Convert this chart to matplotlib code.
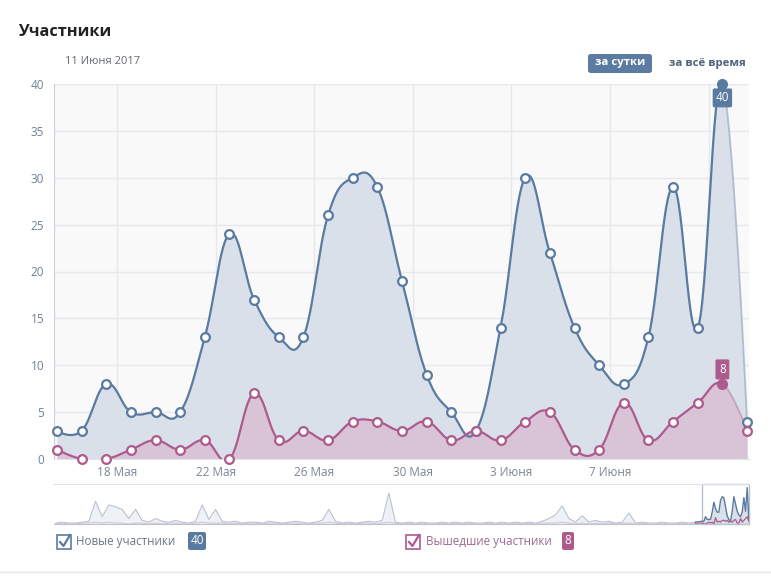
import numpy as np
import pandas as pd
import matplotlib
matplotlib.use("Agg")
import matplotlib.pyplot as plt
import matplotlib.dates as mdates
from matplotlib.patches import Rectangle, FancyBboxPatch
from matplotlib.lines import Line2D

plt.rcParams['font.family'] = ['Open Sans', 'DejaVu Sans']

# daily values, 15 May .. 12 June 2017
dates = pd.date_range("2017-05-15", "2017-06-12", freq="D")
new_members = [3, 3, 8, 5, 5, 5, 13, 24, 17, 13, 13, 26, 30, 29, 19, 9, 5, 3,
               14, 30, 22, 14, 10, 8, 13, 29, 14, 40, 4]
left_members = [1, 0, 0, 1, 2, 1, 2, 0, 7, 2, 3, 2, 4, 4, 3, 4, 2, 3,
                2, 4, 5, 1, 1, 6, 2, 4, 6, 8, 3]
tick_dates = ["2017-05-18", "2017-05-22", "2017-05-26", "2017-05-30", "2017-06-03", "2017-06-07", "2017-06-11"]
tick_labels = ["18 Мая", "22 Мая", "26 Мая", "30 Мая", "3 Июня", "7 Июня", ""]
y_ticks = [0, 5, 10, 15, 20, 25, 30, 35, 40]
hl_index = 27  # 11 June

# navigator history (one value per 4 days, before the shown window)
nav_new_hist = [1, 2, 1, 1, 2, 3, 25, 8, 21, 19, 16, 6, 16, 4, 2, 6, 3, 2, 4, 2,
                1, 3, 21, 5, 16, 3, 2, 3, 1, 2, 2, 1, 3, 2, 1, 2, 3, 2, 1, 2,
                4, 16, 3, 1, 2, 1, 2, 3, 2, 4, 34, 2, 1, 2, 1, 2, 1, 1, 2, 1,
                2, 1, 2, 1, 1, 2, 1, 2, 1, 2, 1, 2, 1, 3, 6, 10, 20, 6, 2, 9,
                2, 4, 2, 3, 1, 2, 12, 1, 2, 1, 1, 2, 1, 1, 2, 1, 2]
nav_left_hist = [0, 1, 0, 0, 1, 1, 2, 1, 2, 1, 1, 0, 1, 1, 0, 1, 0, 1, 1, 0,
                 0, 1, 2, 1, 1, 1, 0, 1, 0, 1, 1, 0, 1, 1, 0, 1, 1, 0, 0, 1,
                 1, 2, 1, 0, 1, 0, 1, 1, 0, 1, 2, 1, 0, 1, 0, 1, 0, 0, 1, 0,
                 1, 0, 1, 0, 0, 1, 0, 1, 0, 1, 0, 1, 0, 1, 1, 1, 2, 1, 0, 1,
                 0, 1, 0, 1, 0, 1, 1, 0, 1, 0, 0, 1, 0, 0, 1, 0, 1]

BLUE = '#5a7ba1'
PINK = '#ad5a8c'
BLUE_FILL = '#d9e0e9'
PINK_FILL = '#d8c4d6'
GRID = '#e6e8ec'
BG = '#f9f9fa'


def hc_spline(x, y, smoothing=1.5, n=30):
    # old-style highcharts spline (no overshoot clamp), one curve per segment
    x = np.asarray(x, float); y = np.asarray(y, float)
    N = len(x)
    lcx, lcy, rcx, rcy = x.copy(), y.copy(), x.copy(), y.copy()
    d = smoothing + 1
    for i in range(1, N - 1):
        px, py = x[i], y[i]
        lx, ly, nx, ny = x[i-1], y[i-1], x[i+1], y[i+1]
        a = (smoothing*px + lx)/d; b = (smoothing*py + ly)/d
        c = (smoothing*px + nx)/d; e = (smoothing*py + ny)/d
        if c != a:
            corr = ((e - b)*(c - px))/(c - a) + py - e
            b += corr; e += corr
        lcx[i], lcy[i], rcx[i], rcy[i] = a, b, c, e
    t = np.linspace(0, 1, n)[:, None]
    segs = []
    for i in range(1, N):
        P0 = np.array([x[i-1], y[i-1]]); P1 = np.array([rcx[i-1], rcy[i-1]])
        P2 = np.array([lcx[i], lcy[i]]); P3 = np.array([x[i], y[i]])
        pts = (1-t)**3*P0 + 3*(1-t)**2*t*P1 + 3*(1-t)*t**2*P2 + t**3*P3
        segs.append(pts)
    return segs


W, H = 771, 580
fig = plt.figure(figsize=(W/100, H/100), dpi=100)


def fx(px):
    return px / W


def fy(py):
    return 1 - py / H


ax = fig.add_axes([fx(54), fy(459), 695/W, 375/H])
ax.set_facecolor(BG)

xs = mdates.date2num(dates) + 0.56
for vals, line_c, fill_c in [(new_members, BLUE, BLUE_FILL), (left_members, PINK, PINK_FILL)]:
    segs = hc_spline(xs, vals)
    full = np.vstack(segs)
    ax.fill_between(full[:, 0], full[:, 1], 0, color=fill_c, lw=0, zorder=2)
    main = np.vstack(segs[:-1])
    ax.plot(main[:, 0], main[:, 1], color=line_c, lw=1.6, zorder=3)
    ax.plot(segs[-1][:, 0], segs[-1][:, 1], color=line_c, lw=1.4, alpha=0.35, zorder=3)
    idx = [i for i in range(len(vals)) if i != hl_index]
    ax.plot(xs[idx], np.array(vals)[idx], 'o', ms=6.3, mfc='white', mec=line_c, mew=1.6,
            zorder=4, clip_on=False)
    ax.plot(xs[hl_index], vals[hl_index], 'o', ms=7, mfc=line_c, mec=line_c, zorder=4, clip_on=False)

ax.annotate(str(new_members[hl_index]), (xs[hl_index], new_members[hl_index]),
            xytext=(0, -10), textcoords='offset points', ha='center', va='center',
            color='white', fontsize=8.5, zorder=6,
            bbox=dict(boxstyle='round,pad=0.25,rounding_size=0.15', fc=BLUE, ec='none'))
ax.annotate(str(left_members[hl_index]), (xs[hl_index], left_members[hl_index]),
            xytext=(0, 10.5), textcoords='offset points', ha='center', va='center',
            color='white', fontsize=8.5, zorder=6,
            bbox=dict(boxstyle='round,pad=0.3,rounding_size=0.15', fc=PINK, ec='none'))

ax.set_yticks(y_ticks)
ax.set_xticks(mdates.date2num(pd.to_datetime(tick_dates)))
ax.set_xticklabels(tick_labels)
ax.set_xticks(mdates.date2num(dates), minor=True)
ax.set_xlim(xs[0] - 0.12, xs[-1] + 0.08)
ax.set_ylim(0, 40)
ax.grid(True, color=GRID, lw=1, zorder=0)
ax.set_axisbelow(True)
for s in ['top', 'right']:
    ax.spines[s].set_visible(False)
ax.spines['left'].set_color('#c8d0da')
ax.spines['bottom'].set_color('#e0e3e8')
ax.tick_params(axis='y', length=0, labelsize=8.5, labelcolor='#6f8096', pad=7)
ax.tick_params(axis='x', which='major', length=0, labelsize=8.5, labelcolor='#7b8595', pad=5)
ax.tick_params(axis='x', which='minor', length=3, direction='in', color='#d9dde3')

# navigator
nav = fig.add_axes([fx(54), fy(524), 695/W, 40/H])
nav.set_facecolor('white')
n_hist = len(nav_new_hist)
hx = xs[0] - 4*(n_hist - np.arange(n_hist))
nav.fill_between(hx, nav_new_hist, 0, color='#eef1f5', lw=0)
nav.plot(hx, nav_new_hist, color='#b7c3d1', lw=0.8)
nav.plot(hx, nav_left_hist, color='#dcc3d3', lw=0.8)
cx = np.concatenate([hx[-1:], xs])
nav.fill_between(xs, new_members, 0, color=BLUE_FILL, lw=0)
nav.plot(cx, [nav_new_hist[-1]] + new_members, color=BLUE, lw=1)
nav.plot(cx, [nav_left_hist[-1]] + left_members, color=PINK, lw=0.9)
nav.set_xlim(xs[0] - 0.12 - (702-54)/(47/28.2), xs[-1] + 0.08)
nav.set_ylim(0, 44)
nav.set_xticks([]); nav.set_yticks([])
for s in ['left', 'right']:
    nav.spines[s].set_visible(False)
nav.spines['top'].set_color('#dde2e8')
nav.spines['bottom'].set_color('#b9c4d1')
nav.add_patch(Rectangle((xs[0] - 0.12, 0), xs[-1] - xs[0] + 0.2, 44, fill=False,
                        ec='#b5c0cd', lw=1, clip_on=False))

# texts
fig.text(fx(18), fy(32), "Участники", fontsize=11.8, fontweight='bold', color='#222222', va='center')
fig.text(fx(65), fy(61), "11 Июня 2017", fontsize=8, color='#656a71', va='center')
fig.patches.append(FancyBboxPatch((fx(588), fy(73)), 64/W, 19/H, boxstyle='round,pad=0,rounding_size=0.004',
                                  fc='#5b7ba0', ec='none', transform=fig.transFigure, figure=fig))
fig.text(fx(620), fy(63), "за сутки", fontsize=8.2, fontweight='bold', color='white', ha='center', va='center')
fig.text(fx(707), fy(63), "за всё время", fontsize=8.2, fontweight='bold', color='#4f6279', ha='center', va='center')

# legend
for x0, col, label, val, tx, bx, bw in [(57, BLUE, "Новые участники", new_members[hl_index], 76, 188, 18),
                                         (406, PINK, "Вышедшие участники", left_members[hl_index], 426, 562, 12)]:
    fig.patches.append(Rectangle((fx(x0), fy(549)), 14/W, 14/H, fill=False, ec=col, lw=1.2,
                                 transform=fig.transFigure, figure=fig))
    fig.lines.append(Line2D([fx(x0+3), fx(x0+6.5), fx(x0+13)], [fy(542), fy(546), fy(535)],
                            color=col, lw=1.6, transform=fig.transFigure, figure=fig))
    fig.text(fx(tx), fy(542), label, fontsize=8.4, color='#6b7685' if col == BLUE else '#9c6a8d',
             va='center')
    fig.patches.append(FancyBboxPatch((fx(bx), fy(550)), bw/W, 18/H, boxstyle='round,pad=0,rounding_size=0.003',
                                      fc=col, ec='none', transform=fig.transFigure, figure=fig))
    fig.text(fx(bx + bw/2), fy(541), str(val), fontsize=8.5, color='white', ha='center', va='center')

fig.lines.append(Line2D([0, 1], [fy(572), fy(572)], color='#e7e8ec', lw=1, transform=fig.transFigure, figure=fig))

fig.savefig("out.png", dpi=100)
